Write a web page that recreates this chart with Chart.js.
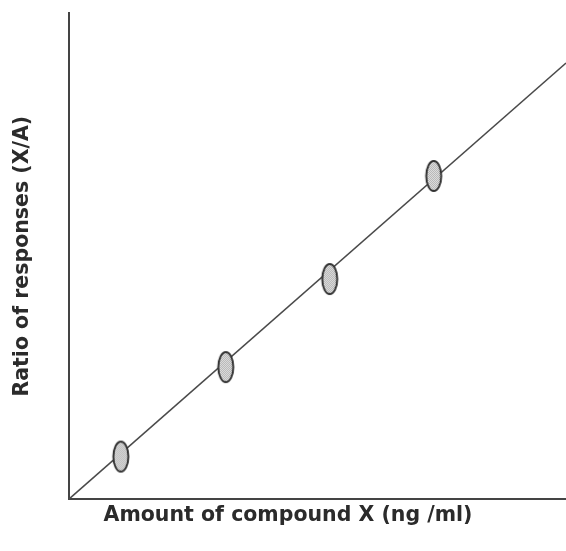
<!DOCTYPE html>
<html>
<head>
<meta charset="utf-8">
<script src="https://cdn.jsdelivr.net/npm/chart.js@4/dist/chart.umd.min.js"></script>
<style>
    body { margin: 0; background: #fff; }
    #wrap { width: 566px; height: 551px; }
</style>
</head>
<body>
<div id="wrap"><canvas id="calib"></canvas></div>
<script>
// calibration standards
var amounts = [1.05, 3.16, 5.25, 7.34];
var ratios = [0.88, 2.72, 4.53, 6.65];
// fitted line, from origin to right edge
var lineX = [0, 10];
var lineY = [0, 8.97];

var xTitle = "Amount of compound X (ng /ml)";
var yTitle = "Ratio of responses (X/A)";

// oval marker with a stippled fill
function makeOval() {
    var c = document.createElement("canvas");
    c.width = 20;
    c.height = 36;
    var g = c.getContext("2d");

    var dots = document.createElement("canvas");
    dots.width = 2;
    dots.height = 2;
    var d = dots.getContext("2d");
    d.fillStyle = "#ececec";
    d.fillRect(0, 0, 2, 2);
    d.fillStyle = "#a8a8a8";
    d.fillRect(0, 0, 1, 1);
    d.fillRect(1, 1, 1, 1);

    g.beginPath();
    g.ellipse(10, 18, 7.5, 15, 0, 0, Math.PI * 2);
    g.fillStyle = g.createPattern(dots, "repeat");
    g.fill();
    g.lineWidth = 2;
    g.strokeStyle = "#333";
    g.stroke();
    return c;
}

var pts = amounts.map(function (a, i) {
    return { x: a, y: ratios[i] };
});
var fit = lineX.map(function (a, i) {
    return { x: a, y: lineY[i] };
});

var titleFont = { family: "DejaVu Sans", size: 20.5, weight: "bold" };

var ctx = document.getElementById("calib").getContext("2d");
var chart = new Chart(ctx, {
    type: "scatter",
    data: {
        datasets: [
            {
                label: "standards",
                data: pts,
                pointStyle: makeOval(),
                pointRadius: 10,
                pointHoverRadius: 10,
            },
            {
                type: "line",
                label: "fit",
                data: fit,
                borderColor: "#4a4a4a",
                borderWidth: 1.5,
                pointRadius: 0,
                fill: false,
            },
        ],
    },
    options: {
        responsive: true,
        maintainAspectRatio: false,
        animation: false,
        layout: {
            autoPadding: false,
            padding: { left: 10, right: 0, top: 13, bottom: 23 },
        },
        plugins: {
            legend: { display: false },
            tooltip: { enabled: false },
            title: {
                display: true,
                position: "bottom",
                text: xTitle,
                color: "#2b2b2b",
                font: titleFont,
                padding: { top: 4, bottom: 0 },
            },
        },
        scales: {
            x: {
                type: "linear",
                min: 0,
                max: 10,
                ticks: { display: false },
                grid: { display: false, drawTicks: false },
                border: { display: true, color: "#444", width: 2 },
            },
            y: {
                type: "linear",
                min: 0,
                max: 10,
                ticks: { display: false },
                grid: { display: false, drawTicks: false },
                border: { display: true, color: "#444", width: 2 },
                title: {
                    display: true,
                    text: yTitle,
                    color: "#2b2b2b",
                    font: titleFont,
                    padding: { top: 0, bottom: 34 },
                },
            },
        },
    },
});
</script>
</body>
</html>
